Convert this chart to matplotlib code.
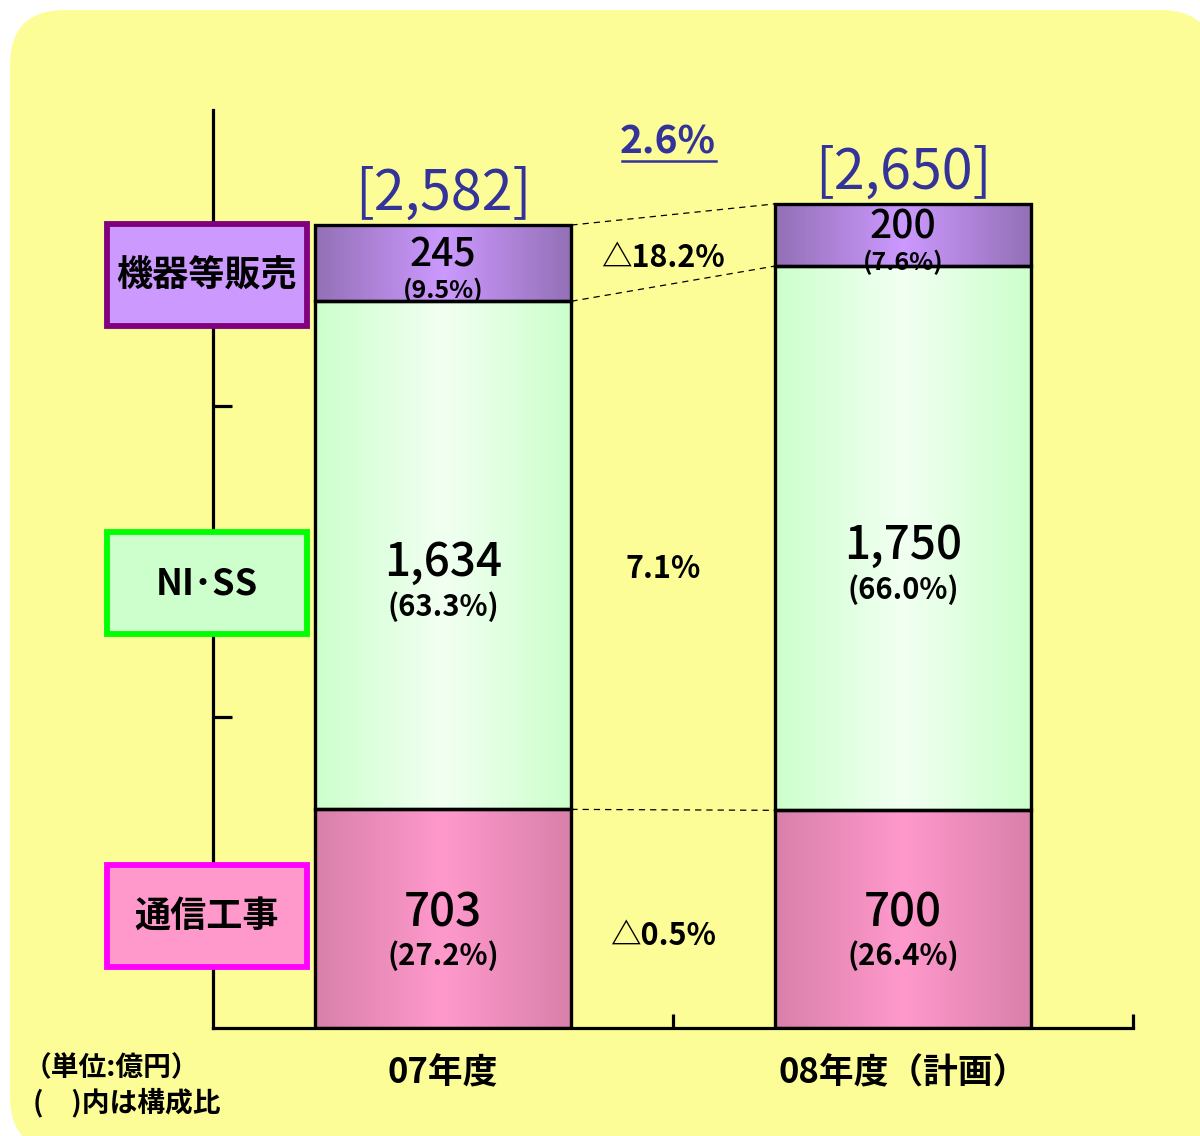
import numpy as np
import matplotlib
matplotlib.use("Agg")
import matplotlib.pyplot as plt
from matplotlib.patches import FancyBboxPatch, Rectangle
from matplotlib.colors import LinearSegmentedColormap

plt.rcParams['font.family'] = ['Noto Sans CJK JP', 'DejaVu Sans']

# data (億円)
years = ["07年度", "08年度（計画）"]
segments = ["通信工事", "NI･SS", "機器等販売"]
values = {
    "通信工事": [703, 700],
    "NI･SS": [1634, 1750],
    "機器等販売": [245, 200],
}
shares = {
    "通信工事": [27.2, 26.4],
    "NI･SS": [63.3, 66.0],
    "機器等販売": [9.5, 7.6],
}
totals = [2582, 2650]
growth = {"通信工事": "△0.5%", "NI･SS": "7.1%", "機器等販売": "△18.2%"}
total_growth = "2.6%"

# gradient stops (edge, centre, edge) per segment
grad = {
    "通信工事": ["#d880aa", "#ff99cc", "#d880aa"],
    "NI･SS": ["#ccffcc", "#f2fff2", "#ccffcc"],
    "機器等販売": ["#9370b6", "#cc99ff", "#9370b6"],
}
box_style = {
    "通信工事": ("#ff00ff", "#ff99cc"),
    "NI･SS": ("#00ff00", "#ccffcc"),
    "機器等販売": ("#800080", "#cc99ff"),
}
# label offsets in pixels from segment middle: (value, share, growth)
lab_off = {
    "通信工事": (6, -37, -17),
    "NI･SS": (-7, -51, -14),
    "機器等販売": (8, -27, 5),
}

W, H = 1200, 1136
fig = plt.figure(figsize=(W / 100, H / 100), dpi=100, facecolor="white")

# rounded yellow panel
fig.patches.append(FancyBboxPatch((0.10, -0.15), 12.05, 11.26 + 0.15,
                                  boxstyle="round,pad=0,rounding_size=0.55",
                                  transform=fig.dpi_scale_trans,
                                  facecolor="#fdfd98", edgecolor="none", zorder=-5))

def fx(px):
    return px / W

def fy(py):
    return 1 - py / H

ax = fig.add_axes([fx(213), fy(1028), fx(1133) - fx(213), fy(110) - fy(1028)])
ax.patch.set_visible(False)
for s in ["top", "right"]:
    ax.spines[s].set_visible(False)
for s in ["left", "bottom"]:
    ax.spines[s].set_linewidth(2.3)
ax.set_yticks([1000, 2000])
ax.set_xticks([1, 2])
ax.tick_params(axis="y", direction="in", length=14, width=2.3, labelleft=False)
ax.tick_params(axis="x", direction="in", length=10, width=2.3, labelbottom=False)

xc = [0.5, 1.5]
bw = 0.558
px_unit = 2952 / 918  # data units per pixel

for i, x in enumerate(xc):
    base = 0
    for seg in segments:
        v = values[seg][i]
        cmap = LinearSegmentedColormap.from_list(seg, grad[seg])
        g = np.linspace(0, 1, 256).reshape(1, -1)
        ax.imshow(g, cmap=cmap, aspect="auto", interpolation="bicubic",
                  extent=(x - bw / 2, x + bw / 2, base, base + v), zorder=1)
        ax.add_patch(Rectangle((x - bw / 2, base), bw, v, facecolor="none",
                               edgecolor="black", linewidth=2.4, zorder=3))
        mid = base + v / 2
        small = seg == "機器等販売"
        dv, dp, _ = lab_off[seg]
        ax.text(x, mid + dv * px_unit, f"{v:,}", ha="center", va="center",
                fontsize=28 if small else 33, fontweight="medium", zorder=4)
        ax.text(x, mid + dp * px_unit, f"({shares[seg][i]:.1f}%)",
                ha="center", va="center", fontsize=18 if small else 21,
                fontweight="bold", zorder=4)
        base += v
    ax.text(x, totals[i] + 31 * px_unit, f"[{totals[i]:,}]", ha="center", va="center",
            fontsize=40, color="#333399", zorder=4)
ax.set_xlim(0, 2)
ax.set_ylim(0, 2952)

# dashed connectors between the bars
x_l, x_r = xc[0] + bw / 2, xc[1] - bw / 2
levels = [values["通信工事"], [values["通信工事"][j] + values["NI･SS"][j] for j in range(2)], totals]
for lv in levels:
    ax.plot([x_l, x_r], lv, ls=(0, (5, 4)), color="black", lw=0.9, zorder=2)

# growth rates
for seg in segments:
    lo = sum(values[s][0] for s in segments[:segments.index(seg)])
    mid = lo + values[seg][0] / 2
    ax.text(0.978, mid + lab_off[seg][2] * px_unit, growth[seg], ha="center", va="center",
            fontsize=22, fontweight="bold", zorder=4)
ax.text(0.988, totals[1] + 62 * px_unit, total_growth, ha="center", va="center",
        fontsize=28, color="#333399", fontweight="bold", zorder=4)
ax.plot([0.889, 1.093], [totals[1] + 43 * px_unit] * 2, color="#333399", lw=1.8, zorder=4)

# segment legend boxes on the left
box_pos = {"機器等販売": 224, "NI･SS": 532, "通信工事": 865}
for seg in segments:
    ec, fc = box_style[seg]
    top = box_pos[seg]
    fig.patches.append(Rectangle((fx(107), fy(top + 102)), fx(200), (102) / H,
                                 transform=fig.transFigure, facecolor=fc, edgecolor=ec,
                                 linewidth=4.2, zorder=5))
    fig.text(fx(207), fy(top + 52), seg, ha="center", va="center", fontsize=26,
             fontweight="bold", zorder=6)

# category labels
for i, x in enumerate(xc):
    ax.text(x, -45 * px_unit, years[i], ha="center", va="center", fontsize=25,
            fontweight="bold", clip_on=False)

fig.text(fx(24), fy(1068), "（単位:億円）", ha="left", va="center", fontsize=20, fontweight="bold")
fig.text(fx(33), fy(1103), "(　)内は構成比", ha="left", va="center", fontsize=20, fontweight="bold")

fig.savefig("out.png", dpi=100, facecolor="white")
